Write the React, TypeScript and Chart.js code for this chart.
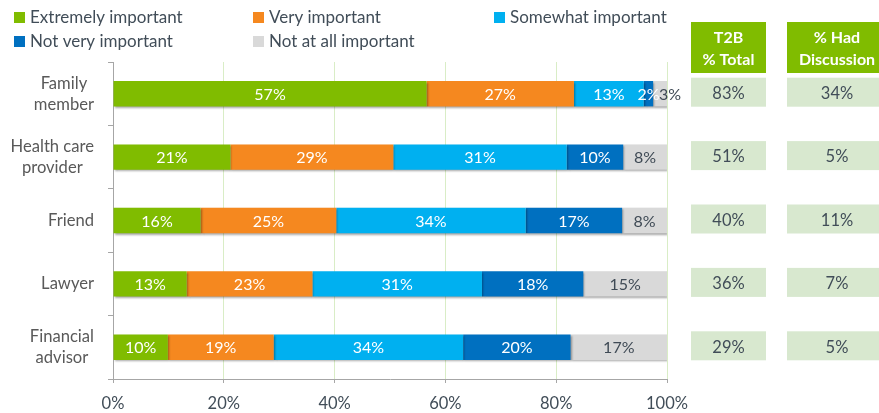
import { useEffect, useRef } from 'react';
import { Chart, registerables } from 'chart.js';

Chart.register(...registerables);

const categories: string[][] = [['Family', 'member'], ['Health care', 'provider'], ['Friend'], ['Lawyer'], ['Financial', 'advisor']];
const seriesNames = ['Extremely important', 'Very important', 'Somewhat important', 'Not very important', 'Not at all important'];
const seriesColors = ['#80BC00', '#F5881F', '#00B0F0', '#0070C0', '#D9D9D9'];

// segment sizes
const extremely = [56.6, 21.2, 15.8, 13.3, 9.9];
const very = [26.6, 29.4, 24.5, 22.7, 19.1];
const somewhat = [12.6, 31.3, 34.2, 30.6, 34.2];
const notVery = [1.7, 10.2, 17.4, 18.3, 19.4];
const notAtAll = [2.5, 7.9, 8.1, 15.1, 17.4];

// printed data labels
const extremelyLabels = [57, 21, 16, 13, 10];
const veryLabels = [27, 29, 25, 23, 19];
const somewhatLabels = [13, 31, 34, 31, 34];
const notVeryLabels = [2, 10, 17, 18, 20];
const notAtAllLabels = [3, 8, 8, 15, 17];

const t2bTotal = [83, 51, 40, 36, 29];
const hadDiscussion = [34, 5, 11, 7, 5];
const tableHeaders = [['T2B', '% Total'], ['% Had', 'Discussion']];

const xTickStep = 20;

const FONT = 'Lato, "Open Sans", sans-serif';

export default function App() {
  const ref = useRef<HTMLCanvasElement | null>(null);

  useEffect(() => {
    if (!ref.current) return;
    const values = [extremely, very, somewhat, notVery, notAtAll];
    const labels = [extremelyLabels, veryLabels, somewhatLabels, notVeryLabels, notAtAllLabels];

    const shadowPlugin = {
      id: 'shadow',
      beforeDatasetsDraw(chart: any) {
        const ctx = chart.ctx;
        ctx.save();
        ctx.shadowColor = 'rgba(0,0,0,0.35)';
        ctx.shadowBlur = 2;
        ctx.shadowOffsetX = 1;
        ctx.shadowOffsetY = 1.5;
      },
      afterDatasetsDraw(chart: any) {
        chart.ctx.restore();
      },
    };

    const labelPlugin = {
      id: 'segLabels',
      afterDatasetsDraw(chart: any) {
        const ctx = chart.ctx;
        ctx.save();
        ctx.font = `16px ${FONT}`;
        ctx.textAlign = 'center';
        ctx.textBaseline = 'middle';
        chart.data.datasets.forEach((ds: any, di: number) => {
          const meta = chart.getDatasetMeta(di);
          meta.data.forEach((el: any, i: number) => {
            const txt = labels[di][i] + '%';
            const w = Math.abs(el.x - el.base);
            let cx = (el.x + el.base) / 2;
            const tw = ctx.measureText(txt).width;
            if (di === labels.length - 1 && tw > w) cx = el.x + 3;
            ctx.fillStyle = di === labels.length - 1 ? '#3F4A55' : '#FFFFFF';
            ctx.fillText(txt, cx, el.y + 1);
          });
        });
        ctx.restore();
      },
    };

    const extrasPlugin = {
      id: 'extras',
      afterDraw(chart: any) {
        const ctx = chart.ctx;
        const yScale = chart.scales.y;
        ctx.save();
        // category labels: block right-aligned to the axis, lines centred in the block
        ctx.font = `16.6px ${FONT}`;
        ctx.textBaseline = 'middle';
        ctx.textAlign = 'center';
        ctx.fillStyle = '#595959';
        const labelRight = yScale.right - 19;
        categories.forEach((lines, i) => {
          const cy = yScale.getPixelForValue(i);
          const widest = Math.max(...lines.map((l) => ctx.measureText(l).width));
          const cx = labelRight - widest / 2;
          const lh = 21;
          lines.forEach((l, k) => {
            ctx.fillText(l, cx, cy + (k - (lines.length - 1) / 2) * lh);
          });
        });
        // legend
        const legendPos = [
          [14, 17.5], [253, 17.5], [494, 17.5],
          [14, 41.5], [253, 41.5],
        ];
        ctx.font = `17px ${FONT}`;
        ctx.textAlign = 'left';
        seriesNames.forEach((name, i) => {
          const [lx, ly] = legendPos[i];
          ctx.fillStyle = seriesColors[i];
          ctx.fillRect(lx, ly - 5.5, 11, 11);
          ctx.fillStyle = '#414D58';
          ctx.fillText(name, lx + 16, ly);
        });
        // table
        const cols = [[691, 766], [787, 887]];
        const cols2 = [t2bTotal, hadDiscussion];
        cols.forEach(([x0, x1], c) => {
          ctx.fillStyle = '#80BC00';
          ctx.fillRect(x0, 22, x1 - x0, 51);
          ctx.fillStyle = '#FFFFFF';
          ctx.font = `bold 16px ${FONT}`;
          ctx.textAlign = 'center';
          ctx.fillText(tableHeaders[c][0], (x0 + x1) / 2, 38);
          ctx.fillText(tableHeaders[c][1], (x0 + x1) / 2, 60);
          ctx.font = `16.5px ${FONT}`;
          cols2[c].forEach((v, i) => {
            const cy = yScale.getPixelForValue(i);
            ctx.fillStyle = '#D8E8CF';
            ctx.fillRect(x0, cy - 16, x1 - x0, 29);
            ctx.fillStyle = '#414D58';
            ctx.fillText(v + '%', (x0 + x1) / 2, cy);
          });
        });
        ctx.restore();
      },
    };

    const chart = new Chart(ref.current, {
      type: 'bar',
      data: {
        labels: categories.map((l) => l.join(' ')),
        datasets: values.map((v, i) => ({
          label: seriesNames[i],
          data: v,
          backgroundColor: seriesColors[i],
          borderWidth: 0,
          barPercentage: 0.4,
          categoryPercentage: 1,
        })),
      },
      options: {
        indexAxis: 'y',
        animation: false,
        responsive: false,
        layout: { padding: { top: 62, right: 212, left: 0, bottom: 0 } },
        plugins: { legend: { display: false }, tooltip: { enabled: false } },
        scales: {
          x: {
            stacked: true,
            min: 0,
            max: 100,
            ticks: {
              stepSize: xTickStep,
              callback: (v: any) => v + '%',
              font: { family: FONT, size: 16.5 },
              color: '#414D58',
              padding: 11,
              maxRotation: 0,
            },
            grid: { color: '#D9EDC6', tickColor: '#A6A6A6', tickLength: 4, lineWidth: 1 },
            border: { color: '#A6A6A6' },
            afterFit: (s: any) => { s.height = 34; },
          },
          y: {
            stacked: true,
            ticks: { display: false },
            grid: { offset: true, drawOnChartArea: false, tickColor: '#A6A6A6', tickLength: 5 },
            border: { color: '#A6A6A6' },
            afterFit: (s: any) => { s.width = 113; },
          },
        },
      },
      plugins: [shadowPlugin, labelPlugin, extrasPlugin],
    } as any);
    return () => chart.destroy();
  }, []);

  return (
    <div style={{ position: 'absolute', left: 0, top: 0, width: 879, height: 413 }}>
      <canvas ref={ref} width={879} height={413} />
    </div>
  );
}
